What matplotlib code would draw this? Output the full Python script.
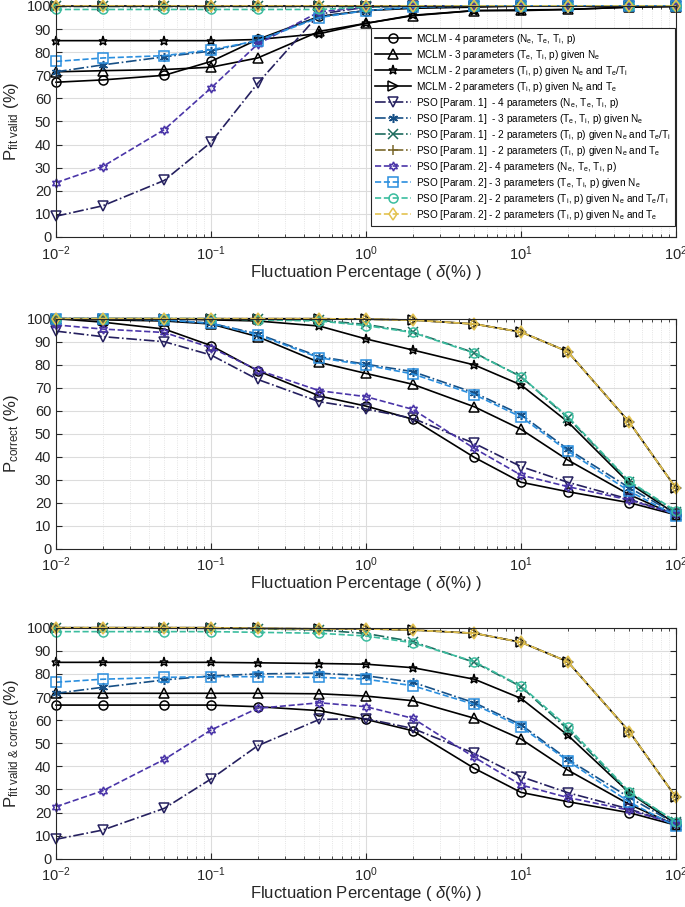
import matplotlib
matplotlib.use("Agg")
import matplotlib.pyplot as plt
from matplotlib.ticker import LogLocator, MultipleLocator, NullFormatter
from matplotlib.mathtext import MathTextParser

plt.rcParams['font.family'] = ['Liberation Sans', 'DejaVu Sans']
plt.rcParams['mathtext.fontset'] = 'custom'
plt.rcParams['mathtext.rm'] = 'Liberation Sans'
plt.rcParams['mathtext.it'] = 'Liberation Sans:italic'
plt.rcParams['mathtext.bf'] = 'Liberation Sans:bold'

# ---------------- data ----------------
x = [0.01, 0.02, 0.05, 0.1, 0.2, 0.5, 1, 2, 5, 10, 20, 50, 100]

labels = [
    r'MCLM - 4 parameters (N$_\mathrm{e}$, T$_\mathrm{e}$, T$_\mathrm{i}$, p)',
    r'MCLM - 3 parameters (T$_\mathrm{e}$, T$_\mathrm{i}$, p) given N$_\mathrm{e}$',
    r'MCLM - 2 parameters (T$_\mathrm{i}$, p) given N$_\mathrm{e}$ and T$_\mathrm{e}$/T$_\mathrm{i}$',
    r'MCLM - 2 parameters (T$_\mathrm{i}$, p) given N$_\mathrm{e}$ and T$_\mathrm{e}$',
    r'PSO [Param. 1]  - 4 parameters (N$_\mathrm{e}$, T$_\mathrm{e}$, T$_\mathrm{i}$, p)',
    r'PSO [Param. 1]  - 3 parameters (T$_\mathrm{e}$, T$_\mathrm{i}$, p) given N$_\mathrm{e}$',
    r'PSO [Param. 1]  - 2 parameters (T$_\mathrm{i}$, p) given N$_\mathrm{e}$ and T$_\mathrm{e}$/T$_\mathrm{i}$',
    r'PSO [Param. 1]  - 2 parameters (T$_\mathrm{i}$, p) given N$_\mathrm{e}$ and T$_\mathrm{e}$',
    r'PSO [Param. 2] - 4 parameters (N$_\mathrm{e}$, T$_\mathrm{e}$, T$_\mathrm{i}$, p)',
    r'PSO [Param. 2] - 3 parameters (T$_\mathrm{e}$, T$_\mathrm{i}$, p) given N$_\mathrm{e}$',
    r'PSO [Param. 2] - 2 parameters (T$_\mathrm{i}$, p) given N$_\mathrm{e}$ and T$_\mathrm{e}$/T$_\mathrm{i}$',
    r'PSO [Param. 2] - 2 parameters (T$_\mathrm{i}$, p) given N$_\mathrm{e}$ and T$_\mathrm{e}$',
]

# Panel 1: P fit valid
valid_mclm4  = [67, 68, 70, 76, 85.5, 95.5, 98, 99, 99.5, 100, 100, 100, 100]
valid_mclm3  = [71.5, 72, 72.5, 73.5, 77.5, 89, 92.5, 95.8, 98, 98.3, 98.5, 99.5, 99.7]
valid_mclm2r = [85, 85, 85, 85, 85.5, 88, 92.5, 96, 98, 98, 98.5, 99.5, 100]
valid_mclm2t = [100, 100, 100, 100, 100, 100, 100, 100, 100, 100, 100, 100, 100]
valid_pso1_4 = [9, 13.5, 24.5, 41, 66.5, 96.5, 99.5, 100, 100, 100, 100, 100, 100]
valid_pso1_3 = [71.5, 74.5, 78, 80.5, 85, 95.5, 98, 99.5, 100, 100, 100, 100, 100]
valid_pso1_r = [99.8, 99.8, 99.8, 99.8, 99.8, 99.8, 99.8, 100, 100, 100, 100, 100, 100]
valid_pso1_t = [100, 100, 100, 100, 100, 100, 100, 100, 100, 100, 100, 100, 100]
valid_pso2_4 = [23.5, 30.5, 46.5, 64.5, 83.5, 97.5, 99.5, 100, 100, 100, 100, 100, 100]
valid_pso2_3 = [76, 77.5, 78.5, 81, 85, 95, 98, 99.5, 100, 100, 100, 100, 100]
valid_pso2_r = [98.5, 98.5, 98.5, 98.5, 98.5, 98.5, 99.5, 100, 100, 100, 100, 100, 100]
valid_pso2_t = [100, 100, 100, 100, 100, 100, 100, 100, 100, 100, 100, 100, 100]

# Panel 2: P correct
corr_mclm4  = [100, 98.5, 95.5, 88.3, 77.4, 66.4, 62, 56.3, 39.7, 28.9, 24.8, 20, 14.7]
corr_mclm3  = [100, 99.5, 99, 97.7, 92.2, 81, 76.2, 71.5, 61.7, 51.9, 38.6, 23.5, 14.5]
corr_mclm2r = [100, 100, 100, 99.5, 99, 96.8, 91.2, 86.4, 79.9, 71.2, 55.2, 28.4, 15]
corr_mclm2t = [100, 100, 100, 100, 100, 100, 99.8, 99.4, 97.7, 94.2, 85.7, 55, 26.3]
corr_pso1_4 = [94.6, 92.2, 90, 84.2, 73.6, 63.9, 60.7, 56.7, 45.8, 35.7, 28.9, 21.5, 15]
corr_pso1_3 = [100, 100, 99.5, 98, 93.4, 83.5, 80.2, 77, 67.8, 58.3, 43.3, 26.5, 15]
corr_pso1_r = [100, 100, 100, 100, 99.8, 99.3, 97.5, 94.2, 85.2, 74.8, 57, 29, 16]
corr_pso1_t = [100, 100, 100, 100, 100, 100, 99.8, 99.4, 97.7, 94.2, 85.7, 55, 26.3]
corr_pso2_4 = [97.3, 95.5, 94, 87.4, 77.7, 68.7, 66.1, 60.6, 43.6, 32, 27, 21.2, 15]
corr_pso2_3 = [100, 100, 99.5, 98, 93, 83, 79.8, 76, 67, 57.3, 42.5, 25, 14.3]
corr_pso2_r = [100, 100, 100, 100, 99.5, 99, 97, 94, 85, 74.8, 57.5, 29.3, 16.4]
corr_pso2_t = [100, 100, 100, 100, 100, 100, 99.8, 99.4, 97.7, 94.2, 85.7, 55, 26.3]

# Panel 3: P fit valid & correct
both_mclm4  = [66.5, 66.5, 66.5, 66.5, 65.8, 64.1, 60.3, 55.4, 39.1, 28.7, 24.7, 19.9, 14.5]
both_mclm3  = [71.6, 71.6, 71.6, 71.6, 71.6, 71.4, 70.4, 68.4, 60.8, 51.8, 38.4, 23.5, 14.5]
both_mclm2r = [85, 85, 85, 85, 84.8, 84.5, 84.2, 82.7, 77.7, 69.4, 53.5, 28.5, 15]
both_mclm2t = [100, 100, 100, 100, 99.7, 99.5, 99.5, 99, 97.6, 93.7, 85.3, 55, 26.6]
both_pso1_4 = [8.4, 12.4, 21.8, 34.5, 48.9, 60.3, 60.6, 56.4, 45.6, 35.5, 28.6, 21.5, 15]
both_pso1_3 = [71.6, 74.2, 77.4, 79.1, 80, 80.3, 79.2, 76.4, 67.5, 58, 43, 26.5, 15]
both_pso1_r = [99.8, 99.8, 99.8, 99.7, 99.5, 99, 97.5, 94, 85, 74.5, 56, 28.5, 16]
both_pso1_t = [100, 100, 100, 100, 99.7, 99.5, 99.5, 99, 97.6, 93.7, 85.3, 55, 26.6]
both_pso2_4 = [22.5, 29.4, 43, 55.7, 65.1, 67.5, 65.8, 60.8, 43.9, 31.9, 26.5, 21, 15]
both_pso2_3 = [76.4, 77.7, 78.5, 78.8, 78.8, 78.5, 77.7, 74.9, 66.8, 57.1, 42.4, 24.5, 14]
both_pso2_r = [98.3, 98.3, 98.3, 98.3, 98, 97.6, 96.4, 93.5, 85.3, 74.8, 57.1, 29, 16]
both_pso2_t = [100, 100, 100, 100, 99.7, 99.5, 99.5, 99, 97.6, 93.7, 85.3, 55, 26.6]

panels = [
    [valid_mclm4, valid_mclm3, valid_mclm2r, valid_mclm2t,
     valid_pso1_4, valid_pso1_3, valid_pso1_r, valid_pso1_t,
     valid_pso2_4, valid_pso2_3, valid_pso2_r, valid_pso2_t],
    [corr_mclm4, corr_mclm3, corr_mclm2r, corr_mclm2t,
     corr_pso1_4, corr_pso1_3, corr_pso1_r, corr_pso1_t,
     corr_pso2_4, corr_pso2_3, corr_pso2_r, corr_pso2_t],
    [both_mclm4, both_mclm3, both_mclm2r, both_mclm2t,
     both_pso1_4, both_pso1_3, both_pso1_r, both_pso1_t,
     both_pso2_4, both_pso2_3, both_pso2_r, both_pso2_t],
]


def safe_math(candidates):
    p = MathTextParser('agg')
    for c in candidates:
        try:
            p.parse(c, 100)
            return c
        except Exception:
            continue
    return candidates[-1]


ylabels = [r'P$_{\mathrm{fit\ valid}}$ (%)',
           r'P$_{\mathrm{correct}}$ (%)',
           safe_math([r'P$_{\mathrm{fit\ valid}\ \&\ \mathrm{correct}}$ (%)',
                      r'P$_{\mathrm{fit\ valid\ &\ correct}}$ (%)',
                      r'P$_{\mathrm{fit\ valid}\ &\ \mathrm{correct}}$ (%)',
                      r'P$_{\mathrm{fit\ valid\ \&\ correct}}$ (%)',
                      r'P$_{\mathrm{fit\ valid\ and\ correct}}$ (%)'])]

# ---------------- styles ----------------
asterisk = (6, 2, 0)
hexagram = (6, 1, 0)
styles = [
    dict(color='black', ls='-', marker='o'),
    dict(color='black', ls='-', marker='^'),
    dict(color='black', ls='-', marker='*'),
    dict(color='black', ls='-', marker='>'),
    dict(color='#25205f', ls='-.', marker='v'),
    dict(color='#164f85', ls='-.', marker=asterisk),
    dict(color='#1d6b5e', ls='-.', marker='x'),
    dict(color='#7a682c', ls='-.', marker='+'),
    dict(color='#4a35a8', ls='--', marker=hexagram),
    dict(color='#2a8ede', ls='--', marker='s'),
    dict(color='#3bbd9f', ls='--', marker='o'),
    dict(color='#e3c24f', ls='--', marker='d'),
]

W, H = 685, 907
fig = plt.figure(figsize=(W / 100, H / 100), dpi=100)

axes_px = [(6, 237), (318.7, 548.7), (627.7, 858.7)]
left_px, right_px = 56, 676

for k, (top, bot) in enumerate(axes_px):
    ax = fig.add_axes([left_px / W, 1 - bot / H, (right_px - left_px) / W, (bot - top) / H])
    for ys, st, lab in zip(panels[k], styles, labels):
        ax.plot(x, ys, color=st['color'], ls=st['ls'], marker=st['marker'],
                mfc='none', mec=st['color'], ms=6.5, mew=1.1, lw=1.2,
                clip_on=False, label=lab)
    ax.set_xscale('log')
    ax.set_xlim(0.01, 100)
    ax.set_ylim(0, 100)
    ax.yaxis.set_major_locator(MultipleLocator(10))
    ax.xaxis.set_major_locator(LogLocator(base=10, numticks=10))
    ax.xaxis.set_minor_locator(LogLocator(base=10, subs=range(2, 10), numticks=20))
    ax.xaxis.set_minor_formatter(NullFormatter())
    ax.grid(True, which='major', color='#dcdcdc', lw=0.8)
    ax.grid(True, which='minor', axis='x', color='#dcdcdc', lw=0.6, ls=':')
    ax.set_axisbelow(True)
    ax.tick_params(which='both', direction='in', top=True, right=True,
                   colors='#262626', labelsize=10.5)
    ax.tick_params(which='major', length=4)
    ax.tick_params(which='minor', length=2)
    for sp in ax.spines.values():
        sp.set_color('#262626')
        sp.set_linewidth(0.8)
    ax.tick_params(axis='x', pad=5)
    ax.set_xlabel(r'Fluctuation Percentage ( $\delta$(%) )', fontsize=12, color='#262626', labelpad=0)
    ax.set_ylabel(ylabels[k], fontsize=12, color='#262626', labelpad=4)
    if k == 0:
        leg = ax.legend(loc='upper right', bbox_to_anchor=(1.0 - 1.5 / (right_px - left_px), 1 - 22 / 231.0),
                        fontsize=7.2, handlelength=3.6, labelspacing=0.2,
                        borderpad=0.4, handletextpad=0.5, borderaxespad=0.0,
                        fancybox=False, framealpha=1, edgecolor='#262626')
        leg.get_frame().set_linewidth(0.8)

fig.savefig('out.png', dpi=100)
